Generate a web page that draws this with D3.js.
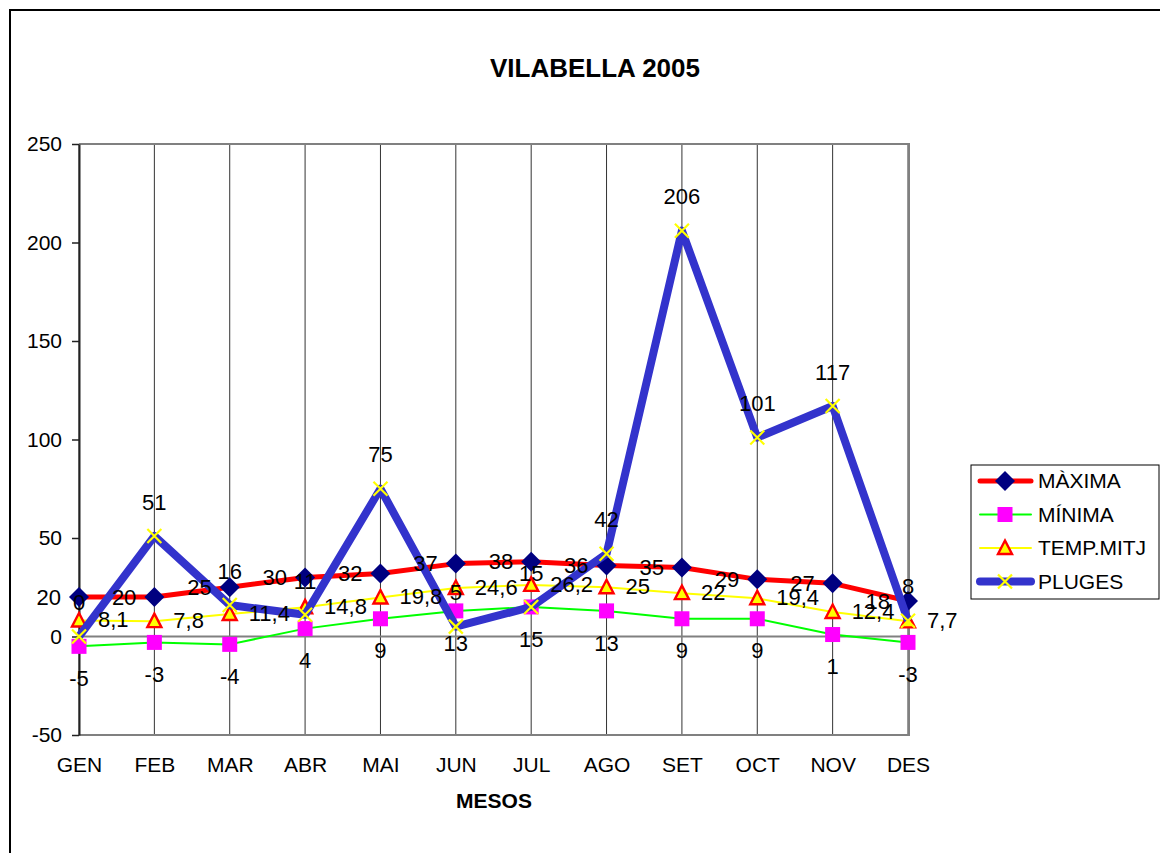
<!DOCTYPE html>
<html><head><meta charset="utf-8">
<script src="https://cdn.jsdelivr.net/npm/d3@7/dist/d3.min.js"></script>
<style>
html,body{margin:0;padding:0;background:#fff;}
text{font-family:"Liberation Sans",Arial,sans-serif;fill:#000;}
</style></head>
<body>
<svg id="chart" width="1160" height="853"></svg>
<script>
const months = ["GEN","FEB","MAR","ABR","MAI","JUN","JUL","AGO","SET","OCT","NOV","DES"];
const maxima = [20,20,25,30,32,37,38,36,35,29,27,18];
const minima = [-5,-3,-4,4,9,13,15,13,9,9,1,-3];
const tempMitj = [8.1,7.8,11.4,14.8,19.8,24.6,26.2,25,22,19.4,12.4,7.7];
const pluges = [0,51,16,11,75,5,15,42,206,101,117,8];
const yTicks = [-50,0,50,100,150,200,250];
const seriesNames = ["MÀXIMA","MÍNIMA","TEMP.MITJ","PLUGES"];
const titleText = "VILABELLA 2005";
const xTitle = "MESOS";

const svg = d3.select("#chart");
const L=79, R=908, T=144, B=735;
const x = d3.scalePoint().domain(months).range([L,R]);
const y = d3.scaleLinear().domain([-50,250]).range([B,T]);
const fmt = v => String(v).replace(".", ",");

// outer chart border
svg.append("rect").attr("x",10).attr("y",10).attr("width",1200).attr("height",900)
  .attr("fill","none").attr("stroke","#000").attr("stroke-width",2);

// title
svg.append("text").attr("x",595).attr("y",77).attr("text-anchor","middle")
  .style("font-size","26px").style("font-weight","bold").text(titleText);

// vertical gridlines
svg.append("g").selectAll("line").data(months).join("line")
  .attr("x1",d=>x(d)).attr("x2",d=>x(d)).attr("y1",T).attr("y2",B)
  .attr("stroke","#333").attr("stroke-width",1);

// plot area border (top/right/bottom)
svg.append("path").attr("d",`M${L},${T}H${R+1}V${B}H${L}`)
  .attr("fill","none").attr("stroke","#808080").attr("stroke-width",2);

// zero line (category axis)
svg.append("line").attr("x1",L).attr("x2",R).attr("y1",y(0)).attr("y2",y(0))
  .attr("stroke","#808080").attr("stroke-width",2);

// y axis
const ya = svg.append("g").attr("transform",`translate(${L},0)`)
  .call(d3.axisLeft(y).tickValues(yTicks).tickFormat(d=>String(d)).tickSize(7).tickSizeOuter(0).tickPadding(10));
ya.select(".domain").attr("stroke","#222").attr("stroke-width",2);
ya.selectAll(".tick line").attr("stroke","#222").attr("stroke-width",1.5);
ya.selectAll("text").style("font-size","21px").attr("fill","#000");

// x axis labels
const xa = svg.append("g").attr("transform",`translate(0,${B})`)
  .call(d3.axisBottom(x).tickSize(0).tickPadding(22));
xa.select(".domain").remove();
xa.selectAll("text").style("font-size","21px").attr("fill","#000");

svg.append("text").attr("x",494).attr("y",808).attr("text-anchor","middle")
  .style("font-size","21px").style("font-weight","bold").text(xTitle);

const line = d3.line().x((d,i)=>x(months[i])).y(d=>y(d));

// marker drawing helpers
function diamond(g){ g.append("path").attr("d","M0,-10L10,0L0,10L-10,0Z").attr("fill","#000080"); }
function square(g){ g.append("rect").attr("x",-7.5).attr("y",-7.5).attr("width",15).attr("height",15).attr("fill","#FF00FF"); }
function triangle(g){ g.append("path").attr("d","M0,-7.5L7,6L-7,6Z").attr("fill","#FFFF00").attr("stroke","#FF0000").attr("stroke-width",2.4).attr("stroke-linejoin","miter"); }
function cross(g){ g.append("path").attr("d","M-7,-7L7,7M-7,7L7,-7").attr("stroke","#FFFF00").attr("stroke-width",2.2).attr("fill","none"); }

const series = [
  {name:seriesNames[0], data:maxima, color:"#FF0000", width:5, marker:diamond},
  {name:seriesNames[1], data:minima, color:"#00FF00", width:2, marker:square},
  {name:seriesNames[2], data:tempMitj, color:"#FFFF00", width:2, marker:triangle},
  {name:seriesNames[3], data:pluges, color:"#3333CC", width:8, marker:cross}
];

series.forEach(s=>{
  svg.append("path").datum(s.data).attr("d",line).attr("fill","none")
    .attr("stroke",s.color).attr("stroke-width",s.width).attr("stroke-linejoin","round");
  s.data.forEach((v,i)=>{
    const g = svg.append("g").attr("transform",`translate(${x(months[i])},${y(v)})`);
    s.marker(g);
  });
});

// data labels
const lbl = svg.append("g").style("font-size","22px");
maxima.forEach((v,i)=>{
  lbl.append("text").attr("x",x(months[i])-18).attr("y",y(v)).attr("dy","0.35em")
    .attr("text-anchor","end").text(fmt(v));
});
minima.forEach((v,i)=>{
  lbl.append("text").attr("x",x(months[i])).attr("y",y(v)+32).attr("dy","0.35em")
    .attr("text-anchor","middle").text(fmt(v));
});
tempMitj.forEach((v,i)=>{
  lbl.append("text").attr("x",x(months[i])+19).attr("y",y(v)-1).attr("dy","0.35em")
    .attr("text-anchor","start").text(fmt(v));
});
pluges.forEach((v,i)=>{
  lbl.append("text").attr("x",x(months[i])).attr("y",y(v)-34).attr("dy","0.35em")
    .attr("text-anchor","middle").text(fmt(v));
});

// legend
const lg = svg.append("g");
lg.append("rect").attr("x",971).attr("y",465).attr("width",188).attr("height",134)
  .attr("fill","#fff").attr("stroke","#000").attr("stroke-width",1);
series.forEach((s,i)=>{
  const cy = 481 + i*33.5;
  lg.append("line").attr("x1",980).attr("x2",1031).attr("y1",cy).attr("y2",cy)
    .attr("stroke",s.color).attr("stroke-width",s.width).attr("stroke-linecap","round");
  const g = lg.append("g").attr("transform",`translate(1005,${cy})`);
  s.marker(g);
  lg.append("text").attr("x",1038).attr("y",cy).attr("dy","0.35em")
    .style("font-size","21px").text(s.name);
});
</script>
</body></html>
